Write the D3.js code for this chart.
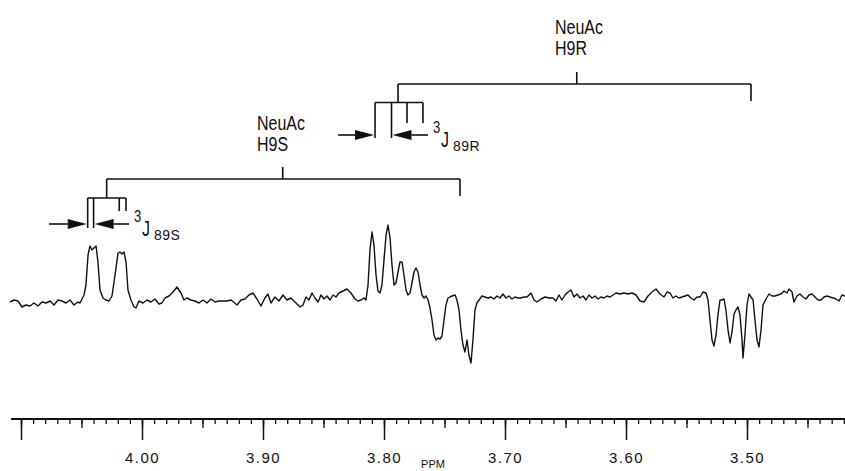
<!DOCTYPE html>
<html><head><meta charset="utf-8">
<script src="https://cdn.jsdelivr.net/npm/d3@7"></script>
<style>
body{margin:0;background:#fff;}
svg{display:block;}
text{font-family:"Liberation Sans",Arial,Helvetica,sans-serif;fill:#111;}
</style></head>
<body>
<svg id="c" width="845" height="471"></svg>
<script>
// ---- data (chemical shift in ppm, signal intensity in arbitrary units) ----
const spectrum = [
[4.1091,-2],[4.1058,0],[4.1025,-1],[4.0992,-7],[4.0959,-5],[4.0926,-6],[4.0893,-3],[4.0860,-6],[4.0826,-2],[4.0793,-3],
[4.0760,-1],[4.0727,-5],[4.0694,0],[4.0661,-1],[4.0628,-3],[4.0595,0],[4.0562,-5],[4.0529,-2],[4.0512,-3],[4.0479,5],
[4.0463,15],[4.0446,45],[4.0430,54],[4.0413,50],[4.0397,52],[4.0380,54],[4.0364,38],[4.0347,10],[4.0322,2],[4.0298,0],
[4.0273,-1],[4.0248,4],[4.0223,25],[4.0198,47],[4.0182,48],[4.0165,46],[4.0149,48],[4.0132,38],[4.0116,10],[4.0091,0],
[4.0066,-7],[4.0050,-8],[4.0025,-1],[3.9992,-3],[3.9959,0],[3.9926,-2],[3.9893,1],[3.9860,-4],[3.9835,-3],[3.9810,2],
[3.9777,4],[3.9744,8],[3.9711,13],[3.9678,7],[3.9653,0],[3.9628,2],[3.9595,0],[3.9562,-1],[3.9529,-3],[3.9496,0],
[3.9463,-3],[3.9430,1],[3.9397,-2],[3.9364,-1],[3.9331,-1],[3.9298,-1],[3.9264,0],[3.9215,-5],[3.9182,0],[3.9149,1],
[3.9116,5],[3.9083,7],[3.9050,1],[3.9017,-6],[3.8984,2],[3.8959,6],[3.8934,-3],[3.8901,3],[3.8868,-1],[3.8835,5],
[3.8802,0],[3.8769,2],[3.8736,-2],[3.8694,-7],[3.8669,-5],[3.8645,3],[3.8620,0],[3.8595,7],[3.8570,2],[3.8545,-2],
[3.8521,5],[3.8496,1],[3.8471,4],[3.8446,0],[3.8421,5],[3.8397,3],[3.8372,7],[3.8339,9],[3.8306,11],[3.8273,7],
[3.8240,1],[3.8215,-1],[3.8190,0],[3.8165,2],[3.8149,0],[3.8132,15],[3.8116,50],[3.8099,68],[3.8083,55],[3.8066,25],
[3.8050,9],[3.8033,7],[3.8017,15],[3.8000,40],[3.7983,65],[3.7967,75],[3.7950,62],[3.7934,35],[3.7917,15],[3.7901,17],
[3.7884,28],[3.7868,38],[3.7851,38],[3.7835,25],[3.7818,10],[3.7802,5],[3.7785,7],[3.7769,17],[3.7752,28],[3.7736,32],
[3.7719,28],[3.7702,15],[3.7686,5],[3.7669,2],[3.7653,4],[3.7636,0],[3.7620,-8],[3.7603,-20],[3.7587,-35],[3.7570,-40],
[3.7554,-38],[3.7537,-39],[3.7521,-36],[3.7504,-20],[3.7488,-5],[3.7471,2],[3.7455,3],[3.7438,4],[3.7413,5],[3.7397,0],
[3.7380,-10],[3.7364,-30],[3.7347,-45],[3.7331,-52],[3.7314,-40],[3.7298,-55],[3.7281,-63],[3.7265,-40],[3.7248,-10],[3.7232,-3],
[3.7215,0],[3.7190,4],[3.7165,3],[3.7141,2],[3.7116,3],[3.7091,1],[3.7066,4],[3.7041,2],[3.7017,6],[3.6992,2],
[3.6967,4],[3.6942,1],[3.6917,3],[3.6893,2],[3.6868,2],[3.6843,3],[3.6818,3],[3.6785,7],[3.6760,0],[3.6736,-2],
[3.6702,1],[3.6669,3],[3.6636,2],[3.6603,2],[3.6579,-1],[3.6554,5],[3.6529,0],[3.6504,5],[3.6479,8],[3.6455,10],
[3.6430,3],[3.6405,6],[3.6380,2],[3.6355,4],[3.6331,0],[3.6306,5],[3.6281,2],[3.6256,4],[3.6231,1],[3.6207,3],
[3.6182,2],[3.6157,4],[3.6132,3],[3.6107,5],[3.6083,7],[3.6050,6],[3.6017,7],[3.5983,6],[3.5950,7],[3.5917,5],
[3.5884,-1],[3.5851,-2],[3.5818,4],[3.5785,8],[3.5752,11],[3.5719,6],[3.5686,3],[3.5661,8],[3.5636,7],[3.5612,2],
[3.5587,4],[3.5562,2],[3.5537,3],[3.5512,4],[3.5488,5],[3.5463,2],[3.5438,0],[3.5413,3],[3.5388,3],[3.5364,8],
[3.5339,7],[3.5322,0],[3.5306,-20],[3.5289,-40],[3.5273,-46],[3.5256,-35],[3.5240,-15],[3.5223,0],[3.5207,0],[3.5190,1],
[3.5174,-10],[3.5157,-30],[3.5140,-43],[3.5124,-32],[3.5107,-14],[3.5091,-10],[3.5074,-7],[3.5058,-15],[3.5041,-40],[3.5033,-58],
[3.5017,-35],[3.5000,-5],[3.4984,6],[3.4967,3],[3.4950,0],[3.4934,-20],[3.4917,-40],[3.4901,-47],[3.4884,-30],[3.4868,-5],
[3.4843,1],[3.4818,6],[3.4793,4],[3.4769,4],[3.4744,5],[3.4719,6],[3.4694,9],[3.4669,7],[3.4653,11],[3.4628,8],
[3.4612,-2],[3.4587,4],[3.4562,6],[3.4537,3],[3.4512,1],[3.4488,5],[3.4463,6],[3.4438,3],[3.4413,0],[3.4388,0],
[3.4364,3],[3.4339,4],[3.4314,3],[3.4289,2],[3.4264,1],[3.4240,-1],[3.4215,5],[3.4190,4]
];
const majorTicks = [4.10, 4.00, 3.90, 3.80, 3.70, 3.60, 3.50];
const tickLabels = ["", "4.00", "3.90", "3.80", "3.70", "3.60", "3.50"];
const axisTitle = "PPM";
// coupling-tree annotations (ppm positions)
const treeS = {label:["NeuAc","H9S"], sub:"89S", center:3.8837, left:4.0292, right:3.7372,
  lines:[4.0449,4.0400,4.0188,4.0132], arrowL:[4.0769,4.0449], arrowR:[4.0107,4.0400]};
const treeR = {label:["NeuAc","H9R"], sub:"89R", center:3.6407, left:3.7884, right:3.4967,
  lines:[3.8074,3.7938,3.7810,3.7678], arrowL:[3.8380,3.8074], arrowR:[3.7636,3.7938]};

// ---- drawing ----
const svg = d3.select("#c");
const x = d3.scaleLinear().domain([4.10, 3.50]).range([21, 747]);
const y = d3.scaleLinear().domain([-100, 100]).range([400, 200]);
const ink = "#111";

// spectrum
svg.append("path").datum(spectrum)
  .attr("d", d3.line().x(d => x(d[0])).y(d => y(d[1])))
  .attr("fill","none").attr("stroke",ink).attr("stroke-width",1.4).attr("stroke-linejoin","round");

// axis
const axisY = 419;
svg.append("line").attr("x1",11).attr("x2",845).attr("y1",axisY).attr("y2",axisY)
  .attr("stroke",ink).attr("stroke-width",1.8);
const lo = x.invert(845), hi = x.invert(11);
const minor = d3.range(Math.ceil(lo*100), Math.floor(hi*100)+1).map(v => v/100);
const mid = minor.filter(v => Math.round(v*100) % 5 === 0);
function tickAxis(vals, size, fmt){
  const ax = d3.axisBottom(x).tickValues(vals).tickSize(size).tickPadding(12).tickFormat(fmt);
  const g = svg.append("g").attr("transform",`translate(0,${axisY})`).call(ax);
  g.select(".domain").remove();
  g.selectAll(".tick line").attr("stroke",ink).attr("stroke-width",1.3);
  return g;
}
tickAxis(minor, 5, () => "");
tickAxis(mid, 9, () => "");
const gMaj = tickAxis(majorTicks, 21, (d,i) => tickLabels[i]);
gMaj.selectAll(".tick text").attr("font-size",15).attr("letter-spacing","1.5px")
  .attr("font-family",'"Liberation Sans",Arial,sans-serif').attr("fill",ink);
gMaj.selectAll(".tick line").attr("stroke-width",1.5);
svg.append("text").attr("x",433).attr("y",468).attr("text-anchor","middle")
  .attr("font-size",11).text(axisTitle);

// coupling trees
function drawTree(t, L){
  const g = svg.append("g").attr("stroke",ink).attr("stroke-width",1.6).attr("fill","none");
  const seg = (x1,y1,x2,y2) => g.append("line").attr("x1",x1).attr("y1",y1).attr("x2",x2).attr("y2",y2);
  seg(x(t.left), L.main, x(t.right), L.main);
  seg(x(t.center), L.main - 12, x(t.center), L.main);
  seg(x(t.right), L.main, x(t.right), L.main + 17);
  seg(x(t.left), L.main, x(t.left), L.sub);
  seg(x(t.lines[0]), L.sub, x(t.lines[3]), L.sub);
  seg(x(t.lines[0]), L.sub, x(t.lines[0]), L.long);
  seg(x(t.lines[1]), L.sub, x(t.lines[1]), L.long);
  seg(x(t.lines[2]), L.sub, x(t.lines[2]), L.short);
  seg(x(t.lines[3]), L.sub, x(t.lines[3]), L.short);
  // arrows
  const ay = L.arrow;
  function arrow(x0, x1){
    const dir = Math.sign(x1 - x0), hl = 19, hw = 5;
    seg(x0, ay, x1 - dir*hl, ay);
    svg.append("path").attr("fill",ink).attr("stroke","none")
      .attr("d",`M${x1},${ay}L${x1-dir*hl},${ay-hw}L${x1-dir*hl},${ay+hw}Z`);
  }
  arrow(x(t.arrowL[0]), x(t.arrowL[1]) - 1);
  arrow(x(t.arrowR[0]), x(t.arrowR[1]) + 1);
  const tx = x(t.arrowR[0]);
  svg.append("text").attr("transform",`translate(${tx+5},${ay-2}) scale(1,1.3)`).attr("font-size",13).text("3");
  svg.append("text").attr("transform",`translate(${tx+13},${ay+12}) scale(1,1.4)`).attr("font-size",16).text("J");
  svg.append("text").attr("x",tx+25).attr("y",ay+16).attr("font-size",14).attr("letter-spacing","0.5px").text(t.sub);
  // labels
  t.label.forEach((s,i) => {
    svg.append("text").attr("transform",`translate(${L.lx},${L.ly + i*20.5}) scale(1,1.22)`)
      .attr("font-size",16).text(s);
  });
}
drawTree(treeS, {main:179, sub:198, long:228, short:211, arrow:224, lx:257, ly:130});
drawTree(treeR, {main:84, sub:102.5, long:138, short:123, arrow:135, lx:555, ly:34});
</script>
</body></html>
